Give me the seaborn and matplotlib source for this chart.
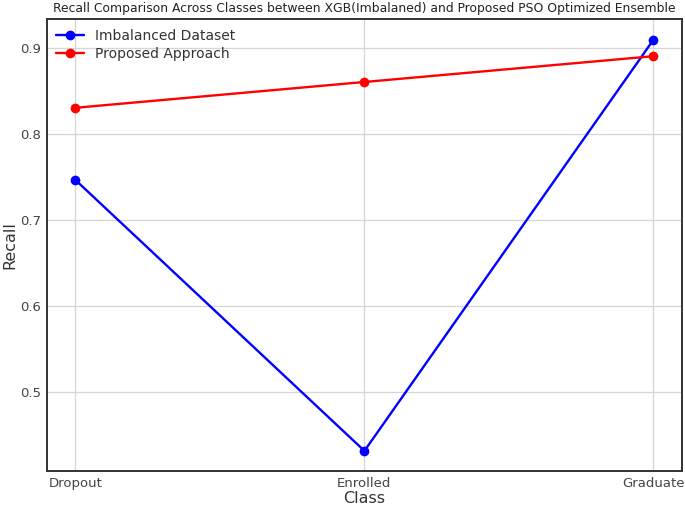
import pandas as pd
import numpy as np
import matplotlib
matplotlib.use("Agg")
import matplotlib.pyplot as plt
import seaborn as sns

sns.set_style("whitegrid")

# values
classes = ["Dropout", "Enrolled", "Graduate"]
recall_imbalanced = [0.746, 0.431, 0.909]
recall_proposed = [0.830, 0.860, 0.890]

df = pd.DataFrame({
    "Class": classes * 2,
    "Recall": recall_imbalanced + recall_proposed,
    "Model": ["Imbalanced Dataset"] * 3 + ["Proposed Approach"] * 3,
})

fig, ax = plt.subplots(figsize=(6.85, 5.08), dpi=100)
sns.lineplot(data=df, x="Class", y="Recall", hue="Model",
             palette=["blue", "red"], marker="o", markersize=7,
             markeredgewidth=0, linewidth=1.7, sort=False, ax=ax)

ax.set_title("Recall Comparison Across Classes between XGB(Imbalaned) and Proposed PSO Optimized Ensemble",
             fontsize=8.9, color="#222222", pad=5)
ax.set_xlabel("Class", fontsize=11.5, color="#333333", labelpad=1)
ax.set_ylabel("Recall", fontsize=11.5, color="#333333", labelpad=2)
ax.tick_params(axis="both", labelsize=9.5, colors="#444444", length=0, pad=4)
ax.set_yticks([0.5, 0.6, 0.7, 0.8, 0.9])
ax.grid(True, color="#d5d5d5", linewidth=0.9)

for s in ax.spines.values():
    s.set_visible(True)
    s.set_color("#333333")
    s.set_linewidth(1.4)

leg = ax.legend(loc="upper left", frameon=False, fontsize=10, title=None,
                handlelength=2, borderaxespad=0.3, labelspacing=0.3)
for t in leg.get_texts():
    t.set_color("#333333")

plt.subplots_adjust(left=0.068, right=0.996, top=0.962, bottom=0.072)
plt.savefig("out.png", dpi=100)
